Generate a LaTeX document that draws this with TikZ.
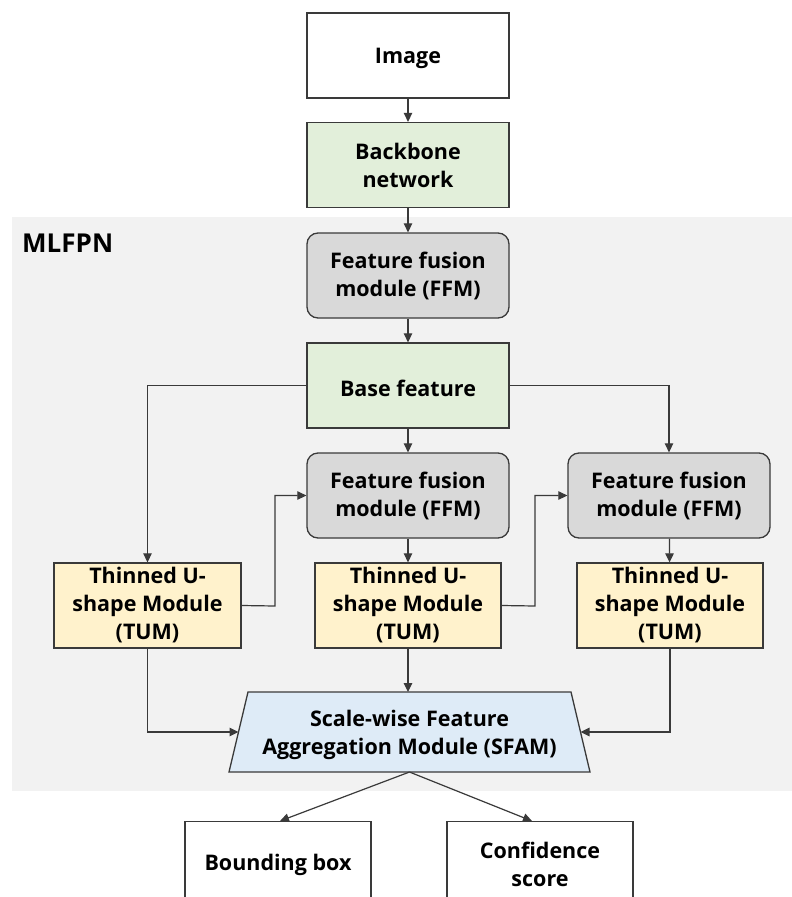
\documentclass[tikz,border=0pt]{standalone}
\usepackage{fontspec}
\setmainfont{Open Sans}
\usetikzlibrary{arrows.meta,calc}
\definecolor{lineC}{HTML}{3A3A3A}
\definecolor{bgC}{HTML}{F2F2F2}
\definecolor{greenC}{HTML}{E2EFDA}
\definecolor{grayC}{HTML}{D9D9D9}
\definecolor{yellowC}{HTML}{FFF2CC}
\definecolor{blueC}{HTML}{DEEBF7}
\tikzset{
  box/.style={draw=lineC, line width=1.3pt, minimum width=202pt, minimum height=85pt, align=center,
    font=\fontsize{21.5}{28}\selectfont\bfseries, inner sep=0pt,
    execute at begin node={\rule{0pt}{22pt}}},
  plain/.style={box, fill=white},
  green/.style={box, fill=greenC},
  ffm/.style={box, fill=grayC, rounded corners=11pt},
  tum/.style={box, fill=yellowC, minimum width=186pt},
  conn/.style={draw=lineC, line width=1.2pt, -{Triangle[length=9pt,width=8.5pt]}},
  txt/.style={font=\fontsize{21.5}{28}\selectfont\bfseries, align=center, inner sep=0pt},
}
\begin{document}
\begin{tikzpicture}[x=1pt,y=-1pt]
\clip (0,0) rectangle (792,897);
\fill[white] (0,0) rectangle (792,897);
\fill[bgC] (12,217) rectangle (792,791);
\node[font=\fontsize{26}{30}\selectfont\bfseries, anchor=west, inner sep=0pt] (mlfpn) at (22,243) {MLFPN};

\node[plain] (img) at (408,55.5) {Image};
\node[green] (bb) at (408,165) {Backbone\\network};
\node[ffm] (ffm1) at (408,275.5) {Feature fusion\\module (FFM)};
\node[green] (base) at (408,385.5) {Base feature};
\node[ffm] (ffm2) at (408,495.5) {Feature fusion\\module (FFM)};
\node[ffm] (ffm3) at (669,495.5) {Feature fusion\\module (FFM)};
\node[tum, minimum width=187pt] (tum1) at (147.5,605.5) {Thinned U-\\shape Module\\(TUM)};
\node[tum] (tum2) at (408,605.5) {Thinned U-\\shape Module\\(TUM)};
\node[tum] (tum3) at (670,605.5) {Thinned U-\\shape Module\\(TUM)};

% SFAM trapezoid
\coordinate (sTL) at (248,692);
\coordinate (sTR) at (571,692);
\coordinate (sBR) at (590,772);
\coordinate (sBL) at (229,772);
\coordinate (sfamW) at (238.5,732);
\coordinate (sfamE) at (580.5,732);
\coordinate (sfamN) at (409.5,692);
\coordinate (sfamS) at (409.5,772);
\draw[draw=lineC, line width=1.3pt, fill=blueC] (sTL) -- (sTR) -- (sBR) -- (sBL) -- cycle;
\node[txt] (sfam) at (409.5,735) {Scale-wise Feature\\Aggregation Module (SFAM)};

\node[plain, minimum width=186pt, minimum height=100pt, anchor=north] (bbox) at (278,821) {};
\node[plain, minimum width=186pt, minimum height=100pt, anchor=north] (conf) at (540,821) {};
\node[txt] (bboxt) at (278,865) {Bounding box};
\node[txt] (conft) at (540,864) {Confidence\\score};

\coordinate (j1) at (275,606);
\coordinate (j2) at (535,606);

\draw[conn] (img) -- (bb);
\draw[conn] (bb) -- (ffm1);
\draw[conn] (ffm1) -- (base);
\draw[conn] (base) -- (ffm2);
\draw[conn] (base.west) -| (tum1.north);
\draw[conn] (base.east) -| (ffm3.north);
\draw[conn] (ffm2) -- (tum2);
\draw[conn] (ffm3) -- (tum3);
\draw[conn] (tum1.east) -- (j1) |- (ffm2.west);
\draw[conn] (tum2.east) -- (j2) |- (ffm3.west);
\draw[conn] (tum1.south) |- (sfamW);
\draw[conn] (tum3.south) |- (sfamE);
\draw[conn] (tum2.south) -- (tum2.south |- sfamN);
\draw[conn] (sfamS) -- ($(bbox.north)+(2,0)$);
\draw[conn] (sfamS) -- ($(conf.north)+(-8,0)$);
\end{tikzpicture}
\end{document}
